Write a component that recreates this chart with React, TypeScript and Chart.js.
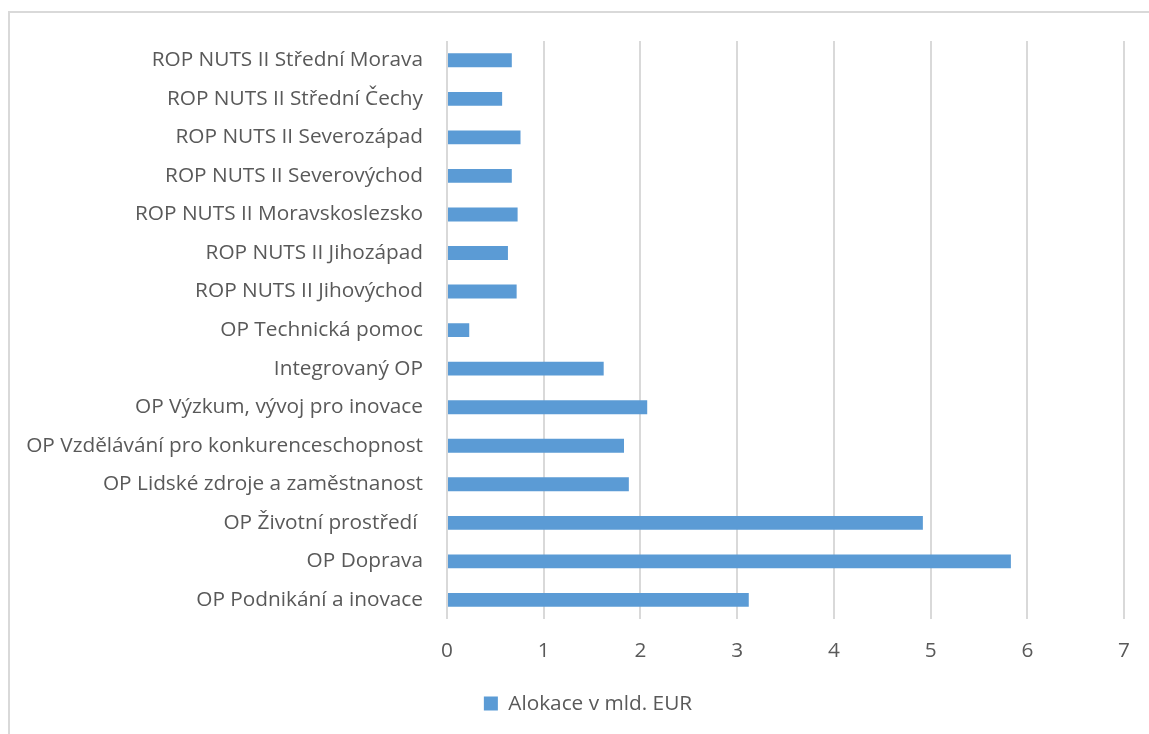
import React, { useEffect, useRef } from "react";
import { Chart, registerables } from "chart.js";

Chart.register(...registerables);

const categories = [
  "ROP NUTS II Střední Morava",
  "ROP NUTS II Střední Čechy",
  "ROP NUTS II Severozápad",
  "ROP NUTS II Severovýchod",
  "ROP NUTS II Moravskoslezsko",
  "ROP NUTS II Jihozápad",
  "ROP NUTS II Jihovýchod",
  "OP Technická pomoc",
  "Integrovaný OP",
  "OP Výzkum, vývoj pro inovace",
  "OP Vzdělávání pro konkurenceschopnost",
  "OP Lidské zdroje a zaměstnanost",
  "OP Životní prostředí ",
  "OP Doprava",
  "OP Podnikání a inovace",
];

const allocation = [
  0.67, 0.57, 0.76, 0.67, 0.73, 0.63, 0.72, 0.23, 1.62, 2.07, 1.83, 1.88, 4.92, 5.83, 3.12,
];

const seriesLabel = "Alokace v mld. EUR";
const xTicks = [0, 1, 2, 3, 4, 5, 6, 7];

const FONT = "'Open Sans', sans-serif";
const SIZE = 20.8;
const TEXT = "#595959";

const legendShift = {
  id: "legendShift",
  afterLayout(chart: any) {
    if (chart.legend) {
      chart.legend.left += 41;
    }
  },
};

export default function App() {
  const ref = useRef<HTMLCanvasElement | null>(null);

  useEffect(() => {
    document.body.style.margin = "0";
    document.body.style.overflow = "hidden";
    if (!ref.current) return;
    const chart = new Chart(ref.current, {
      type: "bar",
      data: {
        labels: categories,
        datasets: [
          {
            label: seriesLabel,
            data: allocation,
            backgroundColor: "#5b9bd5",
            borderWidth: 0,
            barPercentage: 0.72,
            categoryPercentage: 0.5,
          },
        ],
      },
      plugins: [legendShift],
      options: {
        indexAxis: "y",
        animation: false,
        responsive: false,
        devicePixelRatio: 1,
        layout: { padding: { top: 28, right: 24, left: 0, bottom: 10 } },
        plugins: {
          tooltip: { enabled: false },
          legend: {
            position: "bottom",
            labels: {
              boxWidth: 14,
              boxHeight: 14,
              color: TEXT,
              font: { family: FONT, size: SIZE },
              padding: 10,
            },
          },
        },
        scales: {
          x: {
            min: 0,
            max: 7,
            afterBuildTicks: (s: any) => {
              s.ticks = xTicks.map((v) => ({ value: v }));
            },
            afterFit: (s: any) => {
              s.height = 64;
            },
            grid: { color: "#d9d9d9", lineWidth: 2, drawTicks: false },
            border: { display: false },
            ticks: { color: TEXT, font: { family: FONT, size: SIZE }, padding: 19 },
          },
          y: {
            afterFit: (s: any) => {
              s.width = 437;
            },
            grid: { display: false, drawTicks: true, tickLength: 24 },
            border: { display: false },
            ticks: { color: TEXT, font: { family: FONT, size: SIZE }, padding: 0, autoSkip: false },
          },
        },
      },
    });
    return () => chart.destroy();
  }, []);

  return (
    <div
      style={{
        position: "absolute",
        left: 8,
        top: 11,
        width: 1141,
        height: 723,
        borderTop: "2px solid #d9d9d9",
        borderLeft: "2px solid #d9d9d9",
        background: "#fff",
      }}
    >
      <canvas ref={ref} width={1139} height={721} style={{ display: "block" }} />
    </div>
  );
}
